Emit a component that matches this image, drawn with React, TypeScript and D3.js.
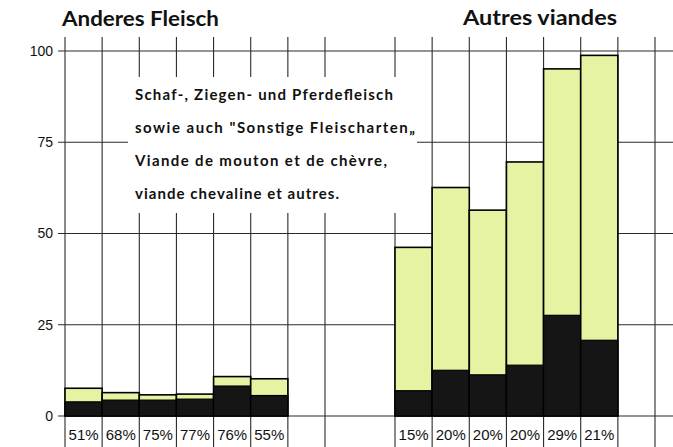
import React from "react";
import * as d3 from "d3";

// Consumption per group, with the share (in %) shown in black
const leftTotals = [7.6, 6.4, 5.8, 6.0, 10.8, 10.2];
const leftShares = [51, 68, 75, 77, 76, 55];
const rightTotals = [46.2, 62.6, 56.4, 69.6, 95.1, 98.8];
const rightShares = [15, 20, 20, 20, 29, 21];
const yTicks = [0, 25, 50, 75, 100];

const titleLeft = "Anderes Fleisch";
const titleRight = "Autres viandes";
const noteLines = [
  "Schaf-, Ziegen- und Pferdefleisch",
  "sowie auch \"Sonstige Fleischarten\u201E",
  "Viande de mouton et de chèvre,",
  "viande chevaline et autres.",
];

const W = 673;
const H = 447;
const GREEN = "#e6f3a2";
const BLACK = "#151515";
const GRID = "#2a2a2a";

export default function App() {
  const y = d3.scaleLinear().domain([0, 100]).range([416, 51]);
  // each panel has six bars plus one empty slot
  const slots = d3.range(7);
  const xLeft = d3.scaleBand<number>().domain(slots).range([65, 325]).padding(0);
  const xRight = d3.scaleBand<number>().domain(slots).range([395, 655]).padding(0);

  const panels = [
    { x: xLeft, totals: leftTotals, shares: leftShares },
    { x: xRight, totals: rightTotals, shares: rightShares },
  ];

  const boundaries: number[] = [];
  panels.forEach((p) => {
    slots.forEach((s) => boundaries.push(p.x(s)!));
    boundaries.push(p.x(slots[slots.length - 1])! + p.x.bandwidth());
  });

  const noteBox = { x0: 128, x1: 417, y0: 77, y1: 213 };
  const noteWidths = [258, 280, 252, 204];

  return (
    <svg
      width={W}
      height={H}
      style={{ position: "absolute", left: 0, top: 0, background: "#fff" }}
    >
      {/* horizontal grid */}
      {yTicks.map((t) => (
        <line key={"h" + t} x1={58} x2={W} y1={y(t)} y2={y(t)} stroke={GRID} strokeWidth={1.1} />
      ))}
      {/* vertical grid */}
      {boundaries.map((b, i) => (
        <line key={"v" + i} x1={b} x2={b} y1={37} y2={H} stroke={GRID} strokeWidth={1.1} />
      ))}
      {/* blank area behind the note */}
      <rect
        x={noteBox.x0}
        y={noteBox.y0}
        width={noteBox.x1 - noteBox.x0}
        height={noteBox.y1 - noteBox.y0}
        fill="#fff"
      />

      {/* bars */}
      {panels.map((p, pi) =>
        p.totals.map((total, i) => {
          const x0 = p.x(i)!;
          const w = p.x.bandwidth();
          const inner = (total * p.shares[i]) / 100;
          return (
            <g key={`b${pi}-${i}`}>
              <rect x={x0} y={y(total)} width={w} height={y(0) - y(total)} fill={GREEN} stroke="#000" strokeWidth={1.6} />
              <rect x={x0} y={y(inner)} width={w} height={y(0) - y(inner)} fill={BLACK} stroke="#000" strokeWidth={1.2} />
            </g>
          );
        })
      )}

      {/* share labels */}
      {panels.map((p, pi) =>
        p.shares.map((s, i) => (
          <text
            key={`l${pi}-${i}`}
            x={p.x(i)! + p.x.bandwidth() / 2}
            y={440}
            textAnchor="middle"
            fontFamily="'Liberation Sans', Arial, sans-serif"
            fontSize={15}
            fill="#111"
          >
            {s}%
          </text>
        ))
      )}

      {/* y axis labels */}
      {yTicks.map((t) => (
        <text
          key={"t" + t}
          x={53}
          y={y(t)}
          dy="0.35em"
          textAnchor="end"
          fontFamily="'Liberation Sans', Arial, sans-serif"
          fontSize={14}
          fill="#111"
        >
          {t}
        </text>
      ))}

      {/* titles */}
      <text
        x={62}
        y={26}
        fontFamily="Lato, 'Open Sans', sans-serif"
        fontWeight={700}
        fontSize={20}
        textLength={157}
        lengthAdjust="spacingAndGlyphs"
        fill="#111"
      >
        {titleLeft}
      </text>
      <text
        x={463}
        y={25}
        fontFamily="Lato, 'Open Sans', sans-serif"
        fontWeight={700}
        fontSize={20}
        textLength={154}
        lengthAdjust="spacingAndGlyphs"
        fill="#111"
      >
        {titleRight}
      </text>

      {/* note */}
      {noteLines.map((line, i) => (
        <text
          key={"n" + i}
          x={135}
          y={100 + i * 33}
          fontFamily="Lato, 'Open Sans', sans-serif"
          fontWeight={700}
          fontSize={15}
          textLength={noteWidths[i]}
          lengthAdjust="spacing"
          fill="#111"
        >
          {line}
        </text>
      ))}
    </svg>
  );
}
